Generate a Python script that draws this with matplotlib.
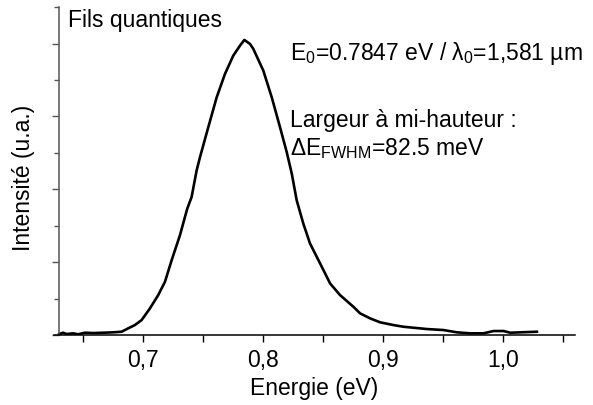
import matplotlib
matplotlib.use("Agg")
import matplotlib.pyplot as plt
from matplotlib.ticker import MultipleLocator, FixedLocator

# Spectre de photoluminescence des fils quantiques
energy = [0.6305, 0.6338, 0.6367, 0.6422, 0.6463, 0.6519, 0.6588, 0.6672, 0.6755,
          0.6825, 0.6880, 0.6936, 0.6992, 0.7061, 0.7130, 0.7186, 0.7242, 0.7311,
          0.7372, 0.7408, 0.7450, 0.7478, 0.7547, 0.7617, 0.7686, 0.7755, 0.7811,
          0.7847, 0.7894, 0.7922, 0.8005, 0.8075, 0.8144, 0.8200, 0.8242, 0.8283,
          0.8338, 0.8394, 0.8478, 0.8561, 0.8644, 0.8755, 0.8811, 0.8867, 0.8894,
          0.8978, 0.9088, 0.9172, 0.9367, 0.9505, 0.9617, 0.9728, 0.9838, 0.9922,
          1.0005, 1.0061, 1.0283]
intensity = [0.0034, 0.0079, 0.0034, 0.0058, 0.0024, 0.0079, 0.0068, 0.0079, 0.0092,
             0.0113, 0.0229, 0.0342, 0.0514, 0.0914, 0.1370, 0.1825, 0.2568, 0.3425,
             0.4339, 0.4736, 0.5651, 0.6106, 0.7134, 0.8161, 0.8962, 0.9589, 0.9932,
             1.0127, 0.9990, 0.9818, 0.9075, 0.8161, 0.7134, 0.6277, 0.5538, 0.4623,
             0.3825, 0.3140, 0.2455, 0.1771, 0.1370, 0.0969, 0.0743, 0.0627, 0.0572,
             0.0435, 0.0342, 0.0284, 0.0205, 0.0171, 0.0092, 0.0058, 0.0058, 0.0137,
             0.0137, 0.0079, 0.0113]

x_ticks = [0.7, 0.8, 0.9, 1.0]
x_ticklabels = ["0,7", "0,8", "0,9", "1,0"]

plt.rcParams['font.family'] = ['Liberation Sans', 'DejaVu Sans']
plt.rcParams['mathtext.fontset'] = 'custom'
plt.rcParams['mathtext.rm'] = 'Liberation Sans'
plt.rcParams['mathtext.it'] = 'Liberation Sans:italic'
fs = 16.5

fig = plt.figure(figsize=(5.93, 4.05), dpi=100)
ax = fig.add_axes([0.0906, 0.1728, 0.9696 - 0.0906, 0.9822 - 0.1728])

ax.plot(energy, intensity, color='black', lw=1.9)

ax.set_xlim(0.626, 1.06)
ax.set_ylim(0, 1.125)

# axes style (Origin-like)
ax.spines['top'].set_visible(False)
ax.spines['right'].set_visible(False)
ax.spines['left'].set_position(('data', 0.63))
ax.spines['left'].set_color('#555555')
ax.spines['left'].set_linewidth(1.1)
ax.spines['bottom'].set_linewidth(1.1)

ax.set_xticks(x_ticks)
ax.set_xticklabels(x_ticklabels)
ax.xaxis.set_minor_locator(FixedLocator([0.65, 0.75, 0.85, 0.95, 1.05]))
ax.tick_params(axis='x', which='both', direction='out', length=5, width=1.0,
               labelsize=fs, pad=5)

ax.yaxis.set_major_locator(MultipleLocator(0.25))
ax.yaxis.set_minor_locator(MultipleLocator(0.125))
ax.tick_params(axis='y', which='major', direction='out', length=5, width=1.0,
               color='#555555', labelleft=False)
ax.tick_params(axis='y', which='minor', direction='out', length=3.5, width=1.0,
               color='#555555')

ax.set_xlabel("Energie (eV)", fontsize=fs, labelpad=4)
ax.set_ylabel("Intensité (u.a.)", fontsize=fs)
ax.yaxis.set_label_coords(-0.036, 0.48)

fig.text(68 / 593, 1 - 26.7 / 405, "Fils quantiques", fontsize=fs, va='baseline')
fig.text(290 / 593, 1 - 60 / 405,
         r"E$_\mathregular{0}$=0.7847 eV / λ$_\mathregular{0}$=1,581 µm",
         fontsize=fs, va='baseline')
fig.text(290 / 593, 1 - 126.7 / 405, "Largeur à mi-hauteur :", fontsize=fs,
         va='baseline')
fig.text(290 / 593, 1 - 155 / 405, r"ΔE$_\mathregular{FWHM}$=82.5 meV",
         fontsize=fs, va='baseline')

fig.savefig("out.png", dpi=100)
